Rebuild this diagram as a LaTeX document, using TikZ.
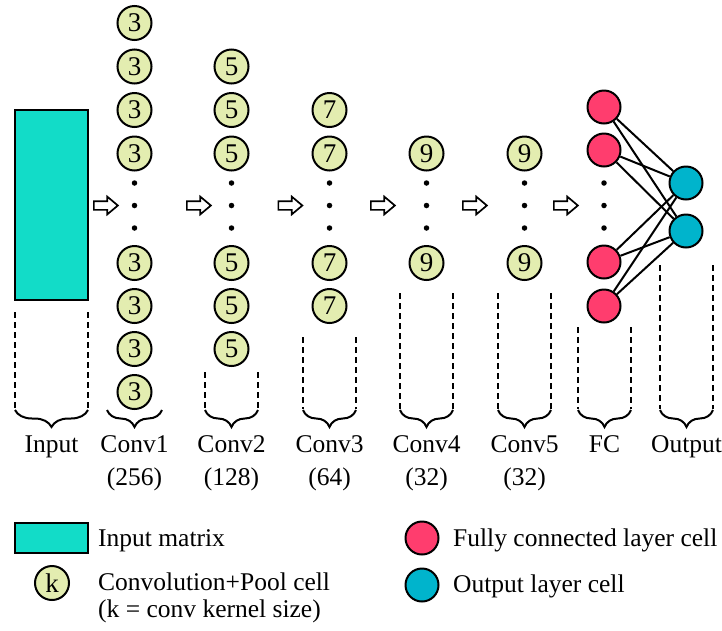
\documentclass[tikz,border=0pt]{standalone}
\usepackage{fontspec}
\setmainfont{Liberation Serif}
\usetikzlibrary{shapes.arrows,decorations.pathreplacing}
\definecolor{inputc}{RGB}{18,220,200}
\definecolor{convc}{RGB}{227,237,176}
\definecolor{fcc}{RGB}{255,61,110}
\definecolor{outc}{RGB}{0,180,204}
\begin{document}
\begin{tikzpicture}[x=1pt,y=-1pt,
 conv/.style={circle,draw,line width=2pt,fill=convc,minimum size=34pt,inner sep=0pt,font=\fontsize{27}{27}\selectfont},
 fcn/.style={circle,draw,line width=2pt,fill=fcc,minimum size=33pt,inner sep=0pt},
 outn/.style={circle,draw,line width=2pt,fill=outc,minimum size=33pt,inner sep=0pt},
 dotn/.style={circle,fill=black,minimum size=5.5pt,inner sep=0pt},
 flow/.style={single arrow,draw,line width=1.7pt,fill=white,inner xsep=0pt,inner ysep=3.5pt,minimum height=24pt,single arrow head extend=4.5pt,single arrow tip angle=80},
 guide/.style={dash pattern=on 6pt off 4pt,line width=2pt},
 brc/.style={decorate,decoration={brace,amplitude=17pt,mirror},line width=2pt},
 lbl/.style={font=\fontsize{25.5}{25.5}\selectfont,anchor=base,inner sep=0pt},
 leg/.style={font=\fontsize{25.5}{25.5}\selectfont,anchor=base west,inner sep=0pt},
 link/.style={line width=2pt},
]
\useasboundingbox (0,0) rectangle (722,630);

% input matrix
\node[draw,fill=inputc,line width=2pt,minimum width=73pt,minimum height=190pt,inner sep=0pt] (inp) at (51.5,205) {};

% conv columns
\foreach \y [count=\i] in {23,66.5,110,153.5,263,306,349,392}
  \node[conv] (c1n\i) at (134.5,\y) {3};
\foreach \y [count=\i] in {66.5,110,153.5,263,306,349}
  \node[conv] (c2n\i) at (231.5,\y) {5};
\foreach \y [count=\i] in {110,153.5,263,306}
  \node[conv] (c3n\i) at (329.5,\y) {7};
\foreach \y [count=\i] in {153.5,263}
  \node[conv] (c4n\i) at (426.5,\y) {9};
\foreach \y [count=\i] in {153.5,263}
  \node[conv] (c5n\i) at (524.5,\y) {9};

% dots
\foreach \x [count=\j] in {134.5,231.5,329.5,426.5,524.5,604}
  \foreach \y [count=\i] in {183,205.5,228}
    \node[dotn] (d\j-\i) at (\x,\y) {};

% flow arrows
\foreach \x [count=\i] in {93,186,277.5,370,462,553}
  \node[flow,anchor=tail] (a\i) at (\x,205.5) {};

% FC and output
\foreach \y [count=\i] in {107,150,262,306}
  \node[fcn] (f\i) at (604,\y) {};
\foreach \y [count=\i] in {183,231}
  \node[outn] (o\i) at (686,\y) {};
\foreach \i in {1,...,4}
  \foreach \j in {1,2}
    \draw[link] (f\i) -- (o\j);

% dashed guides and braces
\foreach \xl/\xr/\yt in {15/88/312, 205/258/372, 303/356/337, 400/453/293, 498/551/293, 578/631/327, 660/713/265} {
  \draw[guide] (\xl,\yt) -- (\xl,409);
  \draw[guide] (\xr,\yt) -- (\xr,409);
}
\foreach \xl/\xr in {15/88, 107/162, 205/258, 303/356, 400/453, 498/551, 578/631, 660/713}
  \draw[brc] (\xl,410) -- (\xr,410);

% labels
\node[lbl] (lin) at (51.5,452) {Input};
\node[lbl] (l1) at (134.5,452) {Conv1};
\node[lbl] (l2) at (231.5,452) {Conv2};
\node[lbl] (l3) at (329.5,452) {Conv3};
\node[lbl] (l4) at (426.5,452) {Conv4};
\node[lbl] (l5) at (524.5,452) {Conv5};
\node[lbl] (lfc) at (604.5,452) {FC};
\node[lbl] (lout) at (686.5,452) {Output};
\node[lbl] (n1) at (134.5,485) {(256)};
\node[lbl] (n2) at (231.5,485) {(128)};
\node[lbl] (n3) at (329.5,485) {(64)};
\node[lbl] (n4) at (426.5,485) {(32)};
\node[lbl] (n5) at (524.5,485) {(32)};

% legend
\node[draw,fill=inputc,line width=2pt,minimum width=73pt,minimum height=30pt,inner sep=0pt] (kin) at (51.5,538) {};
\node[leg] (tin) at (98,546) {Input matrix};
\node[conv] (kcv) at (52,583) {k};
\node[leg] (tcv1) at (98,590) {Convolution+Pool cell};
\node[leg] (tcv2) at (98,617) {(k = conv kernel size)};
\node[fcn] (kfc) at (422,538) {};
\node[leg] (tfc) at (453,546) {Fully connected layer cell};
\node[outn] (kout) at (422,585) {};
\node[leg] (tout) at (453,592) {Output layer cell};
\end{tikzpicture}
\end{document}
